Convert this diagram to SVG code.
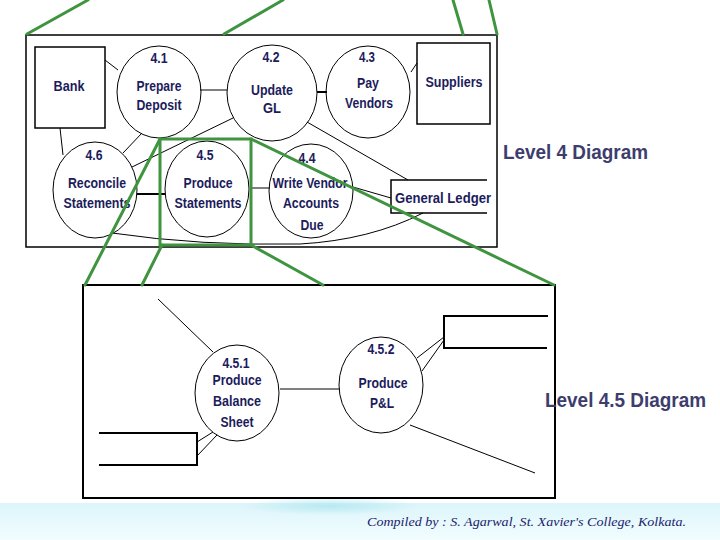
<svg xmlns="http://www.w3.org/2000/svg" width="720" height="540" viewBox="0 0 720 540">
<defs>
<style>
.frame{fill:none;stroke:#000;stroke-width:1.5}
.proc{fill:none;stroke:#000;stroke-width:1}
.ent{fill:none;stroke:#000;stroke-width:1.5}
.flow{fill:none;stroke:#000;stroke-width:1}
.zoom{fill:none;stroke:#3f9440;stroke-width:3;stroke-linecap:round}
.t{font-family:"Liberation Sans",Arial,sans-serif;font-weight:bold;font-size:14px;fill:#1c1c5c;text-anchor:middle}
.lvl{font-family:"Liberation Sans",Arial,sans-serif;font-weight:bold;font-size:21px;fill:#3d3d6e}
.foot{font-family:"Liberation Serif","Times New Roman",serif;font-style:italic;font-size:12px;fill:#1c1c6e}
</style>
<linearGradient id="band" x1="0" y1="0" x2="0" y2="1">
<stop offset="0" stop-color="#dcf5fa"/>
<stop offset="1" stop-color="#f2fdff"/>
</linearGradient>
<radialGradient id="glow" cx="0.5" cy="0.5" r="0.5">
<stop offset="0" stop-color="#b8e9f2"/>
<stop offset="1" stop-color="#b8e9f2" stop-opacity="0"/>
</radialGradient>
</defs>
<rect width="720" height="540" fill="#fff"/>
<rect x="0" y="503" width="720" height="37" fill="url(#band)"/>
<ellipse cx="330" cy="506" rx="90" ry="9" fill="url(#glow)"/>

<!-- frames -->
<rect class="frame" x="26" y="35" width="471" height="212"/>
<rect class="frame" x="83" y="285" width="472" height="213" style="stroke-width:2"/>

<g id="connectors">
<line class="flow" x1="105" y1="60" x2="118" y2="70"/>
<line class="flow" x1="200" y1="90" x2="227" y2="90"/>
<line class="flow" x1="317" y1="92" x2="327" y2="92" style="stroke-width:2"/>
<line class="flow" x1="411" y1="72" x2="417" y2="63"/>
<line class="flow" x1="60" y1="128" x2="63" y2="155"/>
<line class="flow" x1="142" y1="133" x2="123" y2="153"/>
<line class="flow" x1="233" y1="118" x2="132" y2="167"/>
<line class="flow" x1="137" y1="194" x2="165" y2="194" style="stroke-width:2"/>
<line class="flow" x1="250" y1="188" x2="270" y2="188"/>
<line class="flow" x1="307" y1="122" x2="408" y2="180"/>
<line class="flow" x1="353" y1="187" x2="391" y2="198"/>
<path class="flow" d="M112,233 Q200,246 300,244 Q370,240 423,213"/>
<line class="flow" x1="280" y1="389" x2="340" y2="389"/>
<line class="flow" x1="158" y1="299" x2="213" y2="352"/>
<line class="flow" x1="417" y1="358" x2="444" y2="337"/>
<line class="flow" x1="422" y1="371" x2="444" y2="340"/>
<line class="flow" x1="213" y1="432" x2="197" y2="442"/>
<line class="flow" x1="217" y1="435" x2="197" y2="456"/>
<line class="flow" x1="410" y1="425" x2="535" y2="473"/>
</g>

<g id="bank"><rect class="ent" x="35" y="47" width="70" height="81"/><text class="t" x="69" y="91" textLength="31" lengthAdjust="spacingAndGlyphs">Bank</text></g>
<g id="suppliers"><rect class="ent" x="417" y="43" width="73" height="81"/><text class="t" x="454" y="87" textLength="57" lengthAdjust="spacingAndGlyphs">Suppliers</text></g>
<g id="general-ledger"><path class="ent" d="M487,180 H391 V213 H487"/><text class="t" x="443" y="203" textLength="96" lengthAdjust="spacingAndGlyphs">General  Ledger</text></g>

<g id="p4_1"><ellipse class="proc" cx="159" cy="92" rx="42" ry="46"/>
<text class="t" x="159" y="63" textLength="17" lengthAdjust="spacingAndGlyphs">4.1</text>
<text class="t" x="159" y="91" textLength="45" lengthAdjust="spacingAndGlyphs">Prepare</text>
<text class="t" x="159" y="110" textLength="45" lengthAdjust="spacingAndGlyphs">Deposit</text></g>
<g id="p4_2"><ellipse class="proc" cx="272" cy="93" rx="45" ry="48"/>
<text class="t" x="271" y="62" textLength="17" lengthAdjust="spacingAndGlyphs">4.2</text>
<text class="t" x="272" y="95" textLength="42" lengthAdjust="spacingAndGlyphs">Update</text>
<text class="t" x="272" y="113" textLength="18" lengthAdjust="spacingAndGlyphs">GL</text></g>
<g id="p4_3"><ellipse class="proc" cx="368" cy="92" rx="42" ry="46"/>
<text class="t" x="367" y="62" textLength="16" lengthAdjust="spacingAndGlyphs">4.3</text>
<text class="t" x="368" y="88" textLength="22" lengthAdjust="spacingAndGlyphs">Pay</text>
<text class="t" x="369" y="108" textLength="48" lengthAdjust="spacingAndGlyphs">Vendors</text></g>
<g id="p4_6"><ellipse class="proc" cx="95" cy="190" rx="42" ry="48"/>
<text class="t" x="94" y="160" textLength="17" lengthAdjust="spacingAndGlyphs">4.6</text>
<text class="t" x="97" y="188" textLength="58" lengthAdjust="spacingAndGlyphs">Reconcile</text>
<text class="t" x="97" y="208" textLength="67" lengthAdjust="spacingAndGlyphs">Statements</text></g>
<g id="p4_5"><ellipse class="proc" cx="207" cy="189" rx="42" ry="48"/>
<text class="t" x="205" y="160" textLength="17" lengthAdjust="spacingAndGlyphs">4.5</text>
<text class="t" x="208" y="188" textLength="49" lengthAdjust="spacingAndGlyphs">Produce</text>
<text class="t" x="208" y="208" textLength="67" lengthAdjust="spacingAndGlyphs">Statements</text></g>
<g id="p4_4"><ellipse class="proc" cx="311" cy="191" rx="42" ry="47"/>
<text class="t" x="307" y="163" textLength="17" lengthAdjust="spacingAndGlyphs">4.4</text>
<text class="t" x="310" y="188" textLength="75" lengthAdjust="spacingAndGlyphs">Write Vendor</text>
<text class="t" x="311" y="208" textLength="56" lengthAdjust="spacingAndGlyphs">Accounts</text>
<text class="t" x="312" y="230" textLength="23" lengthAdjust="spacingAndGlyphs">Due</text></g>

<g id="store-right"><path class="ent" d="M548,316 H444 V348 H547" style="stroke-width:2"/></g>
<g id="store-left"><path class="ent" d="M99,433 H197 V465 H99" style="stroke-width:2"/></g>
<g id="p4_5_1"><ellipse class="proc" cx="237" cy="393" rx="42" ry="48"/>
<text class="t" x="236" y="368" textLength="27" lengthAdjust="spacingAndGlyphs">4.5.1</text>
<text class="t" x="237" y="385" textLength="49" lengthAdjust="spacingAndGlyphs">Produce</text>
<text class="t" x="237" y="406" textLength="48" lengthAdjust="spacingAndGlyphs">Balance</text>
<text class="t" x="237" y="427" textLength="33" lengthAdjust="spacingAndGlyphs">Sheet</text></g>
<g id="p4_5_2"><ellipse class="proc" cx="381" cy="385" rx="42" ry="48"/>
<text class="t" x="381" y="354" textLength="27" lengthAdjust="spacingAndGlyphs">4.5.2</text>
<text class="t" x="383" y="388" textLength="49" lengthAdjust="spacingAndGlyphs">Produce</text>
<text class="t" x="382" y="408" textLength="24" lengthAdjust="spacingAndGlyphs">P&amp;L</text></g>

<g id="zoom-lines">
<line class="zoom" x1="27" y1="34" x2="88" y2="0"/>
<line class="zoom" x1="224" y1="34" x2="283" y2="0"/>
<line class="zoom" x1="463" y1="34" x2="453" y2="0"/>
<line class="zoom" x1="497" y1="34" x2="489" y2="0"/>
<rect class="zoom" x="160" y="139" width="91" height="106" style="stroke-linecap:butt"/>
<line class="zoom" x1="160" y1="139" x2="85" y2="285"/>
<line class="zoom" x1="162" y1="245" x2="142" y2="285"/>
<line class="zoom" x1="251" y1="245" x2="323" y2="285"/>
<line class="zoom" x1="251" y1="139" x2="554" y2="285"/>
</g>

<text class="lvl" x="503" y="159" textLength="145" lengthAdjust="spacingAndGlyphs">Level 4 Diagram</text>
<text class="lvl" x="545" y="407" textLength="161" lengthAdjust="spacingAndGlyphs">Level 4.5 Diagram</text>
<text class="foot" x="367" y="526" textLength="319" lengthAdjust="spacingAndGlyphs">Compiled by : S. Agarwal, St. Xavier's College, Kolkata.</text>
</svg>
